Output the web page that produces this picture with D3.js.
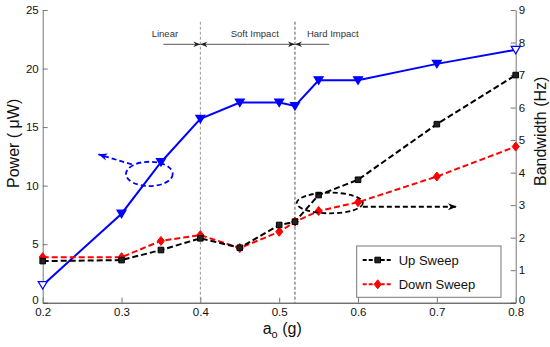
<!DOCTYPE html>
<html>
<head>
<meta charset="utf-8">
<script src="https://cdn.jsdelivr.net/npm/d3@7"></script>
<style>
  body { margin: 0; background: #fff; }
  svg { font-family: "Liberation Sans", Arial, sans-serif; }
</style>
</head>
<body>
<svg id="chart" width="550" height="347"></svg>
<script>
// acceleration levels (g)
const accel = [0.2, 0.3, 0.35, 0.4, 0.45, 0.5, 0.52, 0.55, 0.6, 0.7, 0.8];
// power (uW), left axis
const power = [1.5, 7.6, 12.0, 15.7, 17.1, 17.1, 16.8, 19.0, 19.0, 20.4, 21.6];
// bandwidth (Hz), right axis
const upSweep = [1.28, 1.31, 1.62, 1.98, 1.69, 2.39, 2.49, 3.31, 3.78, 5.49, 7.0];
const downSweep = [1.40, 1.40, 1.90, 2.08, 1.68, 2.18, 2.49, 2.82, 3.09, 3.88, 4.80];

const xTicks = [0.2, 0.3, 0.4, 0.5, 0.6, 0.7, 0.8];
const leftTicks = [0, 5, 10, 15, 20, 25];
const rightTicks = [0, 1, 2, 3, 4, 5, 6, 7, 8, 9];

// regime boundaries and labels
const boundaries = [0.4, 0.52];
const regimes = [
  { name: "Linear", from: 0.353, to: 0.4, at: 0.355 },
  { name: "Soft Impact", from: 0.4, to: 0.52, at: 0.469 },
  { name: "Hard Impact", from: 0.52, to: 0.5633, at: 0.568 }
];

const svg = d3.select("#chart");
const mLeft = 42.7, mRight = 515.7, mTop = 10, mBottom = 302.7;

const x = d3.scaleLinear().domain([0.2, 0.8]).range([mLeft, mRight]);
const yP = d3.scaleLinear().domain([0, 25]).range([mBottom, mTop]);
const yB = d3.scaleLinear().domain([0, 9]).range([mBottom, mTop]);

const defs = svg.append("defs");
[["head", "#222", 7], ["headBlue", "#0000ff", 9], ["headBlack", "#000", 9]].forEach(([id, c, s]) => {
  defs.append("marker")
    .attr("id", id)
    .attr("viewBox", "0 -5 10 10")
    .attr("refX", 10).attr("refY", 0)
    .attr("markerWidth", s).attr("markerHeight", s)
    .attr("markerUnits", "userSpaceOnUse")
    .attr("orient", "auto")
    .append("path").attr("d", "M0,-4L10,0L0,4L3,0Z").attr("fill", c);
});

// boundary lines
svg.selectAll("line.bound")
  .data(boundaries)
  .enter().append("line")
  .attr("class", "bound")
  .attr("x1", d => x(d)).attr("x2", d => x(d))
  .attr("y1", yP(24)).attr("y2", mBottom)
  .attr("stroke", (d, i) => i == 0 ? "#999" : "#555")
  .attr("stroke-width", 1)
  .attr("stroke-dasharray", "3,2");

// regime arrows (pointing toward the boundaries)
const ann = svg.append("g");
const yA = yP(22.07);
const arrow = (x1, x2) => ann.append("line")
  .attr("x1", x1).attr("x2", x2).attr("y1", yA).attr("y2", yA)
  .attr("stroke", "#555").attr("marker-end", "url(#head)");
regimes.forEach((r, i) => {
  if (i == 0) {
    arrow(x(r.from), x(r.to));
  } else if (i == 1) {
    const mid = (x(r.from) + x(r.to)) / 2;
    arrow(mid, x(r.from));
    arrow(mid, x(r.to));
  } else {
    arrow(x(r.to), x(r.from));
  }
  ann.append("text")
    .attr("x", x(r.at)).attr("y", yA - 7)
    .attr("text-anchor", "middle")
    .attr("font-size", 9.5)
    .attr("fill", "#333")
    .text(r.name);
});

// axes
const axL = svg.append("g").attr("transform", `translate(${mLeft},0)`)
  .call(d3.axisLeft(yP).tickValues(leftTicks).tickSize(-5).tickSizeOuter(0).tickPadding(4));
const axR = svg.append("g").attr("transform", `translate(${mRight},0)`)
  .call(d3.axisRight(yB).tickValues(rightTicks).tickSize(-5).tickSizeOuter(0).tickPadding(3));
const axB = svg.append("g").attr("transform", `translate(0,${mBottom})`)
  .call(d3.axisBottom(x).tickValues(xTicks).tickFormat(d3.format(".1f")).tickSize(-5).tickSizeOuter(0).tickPadding(5));
[axL, axR, axB].forEach(a => {
  a.selectAll("text").attr("font-size", 11.5).attr("fill", "#111").attr("font-family", "Liberation Sans, Arial, sans-serif");
  a.selectAll("line").attr("stroke", "#777");
  a.select(".domain").attr("stroke", "#777");
});
axB.select(".domain").attr("stroke", "#333");
// lift the zero labels a little so they clear the bottom tick labels
axL.selectAll(".tick text").filter(d => d === 0).attr("dy", "0.1em");
axR.selectAll(".tick text").filter(d => d === 0).attr("dy", "0.1em");

// series
const linePower = d3.line().x((d, i) => x(accel[i])).y(d => yP(d));
const lineBand = d3.line().x((d, i) => x(accel[i])).y(d => yB(d));

svg.append("path").datum(power).attr("d", linePower)
  .attr("fill", "none").attr("stroke", "#0000ff").attr("stroke-width", 2);
svg.append("path").datum(downSweep).attr("d", lineBand)
  .attr("fill", "none").attr("stroke", "#ff0000").attr("stroke-width", 2).attr("stroke-dasharray", "6,3");
svg.append("path").datum(upSweep).attr("d", lineBand)
  .attr("fill", "none").attr("stroke", "#000").attr("stroke-width", 2).attr("stroke-dasharray", "6,3");

const tri = "M-4.5,-3.5L4.5,-3.5L0,4Z";
const sq = "M-2.8,-2.8H2.8V2.8H-2.8Z";
const dia = "M0,-4.5L3.5,0L0,4.5L-3.5,0Z";

svg.selectAll("path.pm").data(power).enter().append("path")
  .attr("d", tri)
  .attr("transform", (d, i) => `translate(${x(accel[i])},${yP(d)})`)
  .attr("fill", (d, i) => (i == 0 || i == power.length - 1) ? "#fff" : "#0000ff")
  .attr("stroke", "#0000ff").attr("stroke-width", 1.2);
svg.selectAll("path.dm").data(downSweep).enter().append("path")
  .attr("d", dia)
  .attr("transform", (d, i) => `translate(${x(accel[i])},${yB(d)})`)
  .attr("fill", "#ff0000").attr("stroke", "#ff0000").attr("stroke-width", 1);
svg.selectAll("path.um").data(upSweep).enter().append("path")
  .attr("d", sq)
  .attr("transform", (d, i) => `translate(${x(accel[i])},${yB(d)})`)
  .attr("fill", "#222").attr("stroke", "#000").attr("stroke-width", 1);

// ellipse callouts
svg.append("ellipse")
  .attr("cx", x(0.3353)).attr("cy", yP(11.0))
  .attr("rx", x(0.3353 + 0.0296) - x(0.3353)).attr("ry", yP(11.0) - yP(12.04))
  .attr("fill", "none").attr("stroke", "#0000ff").attr("stroke-width", 1.8).attr("stroke-dasharray", "5,3");
svg.append("line")
  .attr("x1", x(0.313)).attr("y1", yP(11.82)).attr("x2", x(0.2706)).attr("y2", yP(12.67))
  .attr("stroke", "#0000ff").attr("stroke-width", 1.8).attr("stroke-dasharray", "5,3")
  .attr("marker-end", "url(#headBlue)");

svg.append("ellipse")
  .attr("cx", x(0.5642)).attr("cy", yB(3.066))
  .attr("rx", x(0.5642 + 0.0419) - x(0.5642)).attr("ry", yB(3.066) - yB(3.383))
  .attr("fill", "none").attr("stroke", "#000").attr("stroke-width", 1.8).attr("stroke-dasharray", "5,3");
svg.append("line")
  .attr("x1", x(0.6061)).attr("y1", yB(2.95)).attr("x2", x(0.7254)).attr("y2", yB(2.95))
  .attr("stroke", "#000").attr("stroke-width", 1.8).attr("stroke-dasharray", "5,3")
  .attr("marker-end", "url(#headBlack)");

// legend
const lg = svg.append("g").attr("transform", "translate(356.7,246)");
lg.append("rect").attr("width", 144.3).attr("height", 51.3)
  .attr("fill", "#fff").attr("stroke", "#777").attr("stroke-width", 1);
const items = [
  { name: "Up Sweep", color: "#000", mark: sq, fill: "#222" },
  { name: "Down Sweep", color: "#ff0000", mark: dia, fill: "#ff0000" }
];
items.forEach((it, i) => {
  const yy = 14 + i * 24.3;
  lg.append("line").attr("x1", 6).attr("x2", 36).attr("y1", yy).attr("y2", yy)
    .attr("stroke", it.color).attr("stroke-width", 2).attr("stroke-dasharray", "4,2");
  lg.append("path").attr("d", it.mark).attr("transform", `translate(21,${yy})`)
    .attr("fill", it.fill).attr("stroke", it.color);
  lg.append("text").attr("x", 42).attr("y", yy).attr("dy", "0.35em")
    .attr("font-size", 13).attr("fill", "#111").text(it.name);
});

// axis titles
svg.append("text")
  .attr("transform", `translate(19,${(mTop + mBottom) / 2 - 13}) rotate(-90)`)
  .attr("text-anchor", "middle").attr("font-size", 16).attr("fill", "#111")
  .text("Power ( μW)");
svg.append("text")
  .attr("transform", `translate(546,${(mTop + mBottom) / 2 - 25}) rotate(-90)`)
  .attr("text-anchor", "middle").attr("font-size", 16).attr("fill", "#111")
  .text("Bandwidth (Hz)");
const xl = svg.append("text")
  .attr("x", x(0.5) + 3).attr("y", 334)
  .attr("text-anchor", "middle").attr("font-size", 16).attr("fill", "#111");
xl.append("tspan").text("a");
xl.append("tspan").attr("font-size", 11).attr("dy", 4).text("o");
xl.append("tspan").attr("dy", -4).text(" (g)");
</script>
</body>
</html>
